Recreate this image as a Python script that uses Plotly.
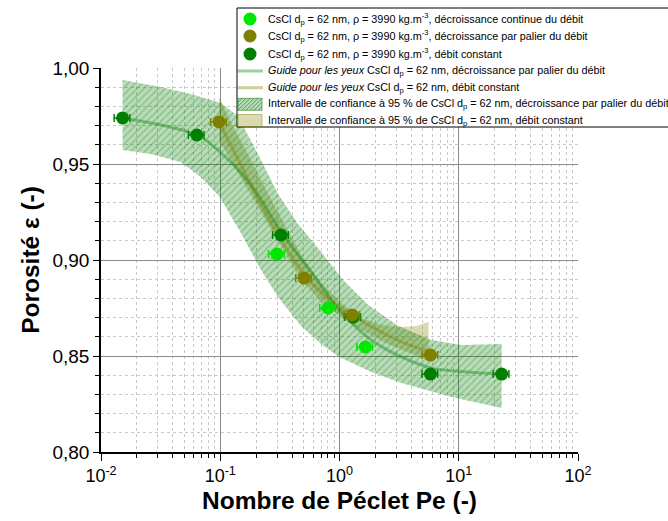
import plotly.graph_objects as go

# ---------------- data ----------------
# CsCl dp = 62 nm, décroissance continue du débit (light green)
pe_continue = [0.299, 0.803, 1.645]
eps_continue = [0.9031, 0.8750, 0.8547]

# CsCl dp = 62 nm, décroissance par palier du débit (olive)
pe_palier = [0.0977, 0.505, 1.279, 5.79]
eps_palier = [0.9719, 0.8906, 0.8714, 0.8505]

# CsCl dp = 62 nm, débit constant (dark green)
pe_constant = [0.01517, 0.0636, 0.3234, 1.304, 5.79, 22.9]
eps_constant = [0.9740, 0.9651, 0.9130, 0.8703, 0.8406, 0.8406]

# guide curves
guide_green_x = [0.01517, 0.0636, 0.0993, 0.1808, 0.3233, 0.578, 1.033, 1.848, 3.303, 5.90, 11.63, 22.9]
guide_green_y = [0.9740, 0.9651, 0.9563, 0.9391, 0.9146, 0.8938, 0.8729, 0.8583, 0.8495, 0.8437, 0.8417, 0.8406]
guide_olive_x = [0.0977, 0.149, 0.2196, 0.3234, 0.5048, 0.7729, 1.279, 2.243, 3.639, 5.792]
guide_olive_y = [0.9719, 0.9495, 0.9287, 0.9104, 0.8927, 0.8807, 0.8714, 0.8625, 0.8563, 0.8521]

# 95 % confidence bands
band_green_up_x = [0.01517, 0.03165, 0.05657, 0.1012, 0.1406, 0.1809, 0.2196, 0.3051, 0.4494, 0.7017, 1.074, 1.743, 3.117, 5.905, 10.56, 22.9]
band_green_up_y = [0.9938, 0.9901, 0.9865, 0.9818, 0.9750, 0.9625, 0.9521, 0.9344, 0.9188, 0.9042, 0.8896, 0.8766, 0.8656, 0.8583, 0.8557, 0.8563]
band_green_lo_x = [0.01517, 0.02608, 0.04662, 0.06868, 0.09922, 0.1490, 0.2196, 0.3051, 0.4763, 0.7017, 0.9942, 1.848, 3.303, 8.70, 22.9]
band_green_lo_y = [0.9573, 0.9552, 0.9510, 0.9432, 0.9328, 0.9141, 0.8948, 0.8807, 0.8656, 0.8563, 0.8495, 0.8417, 0.8359, 0.8287, 0.8229]

band_olive_up_x = [0.0977, 0.1228, 0.1642, 0.2196, 0.3234, 0.4763, 0.7017, 1.033, 1.522, 2.243, 3.303, 4.417, 5.572]
band_olive_up_y = [0.9849, 0.9719, 0.9573, 0.9417, 0.9219, 0.9026, 0.8880, 0.8776, 0.8698, 0.8662, 0.8651, 0.8656, 0.8677]
band_olive_lo_x = [0.0977, 0.149, 0.2196, 0.3234, 0.4763, 0.7017, 1.254, 2.243, 3.303, 5.572]
band_olive_lo_y = [0.9625, 0.9427, 0.9245, 0.9073, 0.8896, 0.8781, 0.8667, 0.8578, 0.8531, 0.8479]

# axis ticks
x_tickvals = [0.01, 0.1, 1, 10, 100]
x_ticktext = ["10<sup>-2</sup>", "10<sup>-1</sup>", "10<sup>0</sup>", "10<sup>1</sup>", "10<sup>2</sup>"]
x_minor = [k * d for d in [0.01, 0.1, 1, 10] for k in range(2, 10)]

# labels
lab_cont = "CsCl d<sub>p</sub> = 62 nm, ρ = 3990 kg.m<sup>-3</sup>, décroissance continue du débit"
lab_pal = "CsCl d<sub>p</sub> = 62 nm, ρ = 3990 kg.m<sup>-3</sup>, décroissance par palier du débit"
lab_cst = "CsCl d<sub>p</sub> = 62 nm, ρ = 3990 kg.m<sup>-3</sup>, débit constant"
lab_g1 = "<i>Guide pour les yeux</i> CsCl d<sub>p</sub> = 62 nm, décroissance par palier du débit"
lab_g2 = "<i>Guide pour les yeux</i> CsCl d<sub>p</sub> = 62 nm, débit constant"
lab_b1 = "Intervalle de confiance à 95 % de CsCl d<sub>p</sub> = 62 nm, décroissance par palier du débit"
lab_b2 = "Intervalle de confiance à 95 % de CsCl d<sub>p</sub> = 62 nm, débit constant"

# styles
C_CONT = "#00E800"
C_PAL = "#808000"
C_CST = "#008000"
C_GUIDE_G = "rgba(0,128,0,0.38)"
C_GUIDE_O = "rgba(128,128,0,0.38)"
C_BAND_G = "rgba(0,128,0,0.28)"
C_BAND_O = "rgba(128,128,0,0.30)"
C_HATCH = "rgba(0,100,0,0.55)"

W, H = 668, 521
ML, MR, MT, MB = 101, 90, 68, 69
PW, PH = W - ML - MR, H - MT - MB


def px2x(px):
    return (px - ML) / PW


def py2y(py):
    return (H - MB - py) / PH


fig = go.Figure()

# bands
fig.add_trace(go.Scatter(
    x=band_olive_up_x + band_olive_lo_x[::-1],
    y=band_olive_up_y + band_olive_lo_y[::-1],
    fill="toself", mode="lines", line=dict(width=0),
    fillcolor=C_BAND_O, name=lab_b2, hoverinfo="skip", showlegend=False))
fig.add_trace(go.Scatter(
    x=band_green_up_x + band_green_lo_x[::-1],
    y=band_green_up_y + band_green_lo_y[::-1],
    fill="toself", mode="lines", line=dict(width=0),
    fillcolor=C_BAND_G,
    fillpattern=dict(shape="/", fgcolor=C_HATCH, bgcolor=C_BAND_G, size=5, solidity=0.25),
    name=lab_b1, hoverinfo="skip", showlegend=False))

# guide lines
fig.add_trace(go.Scatter(x=guide_green_x, y=guide_green_y, mode="lines",
                         line=dict(color=C_GUIDE_G, width=3, shape="spline"),
                         name=lab_g1, showlegend=False))
fig.add_trace(go.Scatter(x=guide_olive_x, y=guide_olive_y, mode="lines",
                         line=dict(color=C_GUIDE_O, width=3, shape="spline"),
                         name=lab_g2, showlegend=False))


def pts(x, y, color, name):
    return go.Scatter(x=x, y=y, mode="markers", name=name, showlegend=False,
                      marker=dict(color=color, size=13, symbol="circle"),
                      error_x=dict(type="percent", value=15, color=color, thickness=1.5, width=4))


fig.add_trace(pts(pe_constant, eps_constant, C_CST, lab_cst))
fig.add_trace(pts(pe_palier, eps_palier, C_PAL, lab_pal))
fig.add_trace(pts(pe_continue, eps_continue, C_CONT, lab_cont))

# ---------------- custom legend (box, symbols, texts) ----------------
shapes = []
annotations = []
LEG_L, LEG_T, LEG_B = 237, 8, 127
shapes.append(dict(type="rect", xref="paper", yref="paper", layer="above",
                   x0=px2x(LEG_L), x1=px2x(W + 40), y0=py2y(LEG_B), y1=py2y(LEG_T),
                   line=dict(color="black", width=1), fillcolor="white"))
rows = [19, 36, 54, 71, 87.7, 104.3, 120.5]
SW_L, SW_R = 238, 262
TXT_X = 265.5
entries = [
    ("marker", C_CONT, lab_cont),
    ("marker", C_PAL, lab_pal),
    ("marker", C_CST, lab_cst),
    ("line", C_GUIDE_G, lab_g1),
    ("line", C_GUIDE_O, lab_g2),
    ("hatch", C_BAND_G, lab_b1),
    ("fill", C_BAND_O, lab_b2),
]
for ry, (kind, col, lab) in zip(rows, entries):
    if kind == "marker":
        cx, r = 250, 6.5
        shapes.append(dict(type="circle", xref="paper", yref="paper", layer="above",
                           x0=px2x(cx - r), x1=px2x(cx + r), y0=py2y(ry + r), y1=py2y(ry - r),
                           fillcolor=col, line=dict(color=col, width=0)))
    elif kind == "line":
        shapes.append(dict(type="line", xref="paper", yref="paper", layer="above",
                           x0=px2x(SW_L - 1), x1=px2x(SW_R + 1), y0=py2y(ry), y1=py2y(ry),
                           line=dict(color=col, width=3)))
    else:
        top, bot = ry - 6, ry + 6
        shapes.append(dict(type="rect", xref="paper", yref="paper", layer="above",
                           x0=px2x(SW_L), x1=px2x(SW_R), y0=py2y(bot), y1=py2y(top),
                           fillcolor=col,
                           line=dict(color=("rgba(0,110,0,0.5)" if kind == "hatch"
                                            else "rgba(128,128,0,0.45)"), width=1)))
        if kind == "hatch":
            segs = []
            hgt = bot - top
            wid = SW_R - SW_L
            c = -hgt
            while c < wid:
                u0 = max(c, 0)
                u1 = min(c + hgt, wid)
                if u1 > u0:
                    v0, v1 = u0 - c, u1 - c
                    segs.append("M %.5f %.5f L %.5f %.5f" % (
                        px2x(SW_L + u0), py2y(bot - v0), px2x(SW_L + u1), py2y(bot - v1)))
                c += 4
            shapes.append(dict(type="path", xref="paper", yref="paper", layer="above",
                               path=" ".join(segs), line=dict(color=C_HATCH, width=1)))
    annotations.append(dict(xref="paper", yref="paper", x=px2x(TXT_X), y=py2y(ry),
                            xanchor="left", yanchor="middle", showarrow=False, text=lab,
                            font=dict(size=10.8, color="black",
                                      family="Arial, Liberation Sans, sans-serif")))

fig.update_layout(
    width=W, height=H,
    margin=dict(l=ML, r=MR, t=MT, b=MB, autoexpand=False),
    paper_bgcolor="white", plot_bgcolor="white",
    separators=",.",
    font=dict(family="Arial, Liberation Sans, sans-serif", color="black"),
    showlegend=False,
    shapes=shapes, annotations=annotations,
)

fig.update_xaxes(
    type="log", range=[-2, 2],
    tickmode="array", tickvals=x_tickvals, ticktext=x_ticktext,
    tickfont=dict(size=18),
    showline=True, linecolor="black", linewidth=1.5,
    ticks="outside", ticklen=7, tickwidth=1.2, tickcolor="black",
    showgrid=True, gridcolor="#8a8a8a", gridwidth=1,
    zeroline=False,
    minor=dict(tickmode="array", tickvals=x_minor, ticks="outside", ticklen=4,
               tickcolor="black", tickwidth=1,
               showgrid=True, gridcolor="#c8c8c8", griddash="3px,3px", gridwidth=1),
    title=dict(text="<b>Nombre de Péclet Pe (-)</b>", font=dict(size=24.5), standoff=7),
)
fig.update_yaxes(
    range=[0.80, 1.00], dtick=0.05, tick0=0.8, tickformat=".2f",
    tickfont=dict(size=19),
    showline=True, linecolor="black", linewidth=1.5,
    ticks="outside", ticklen=6, tickwidth=1.2, tickcolor="black",
    showgrid=True, gridcolor="#8a8a8a", gridwidth=1,
    zeroline=False,
    minor=dict(dtick=0.01, ticks="outside", ticklen=4, tickcolor="black", tickwidth=1,
               showgrid=True, gridcolor="#c8c8c8", griddash="3px,3px", gridwidth=1),
    title=dict(text="<b>Porosité ε (-)</b>", font=dict(size=24.5), standoff=6),
)

fig.write_html("out.html", config={"displayModeBar": False},
               post_script="document.body.style.margin='0';document.body.style.padding='0';")
